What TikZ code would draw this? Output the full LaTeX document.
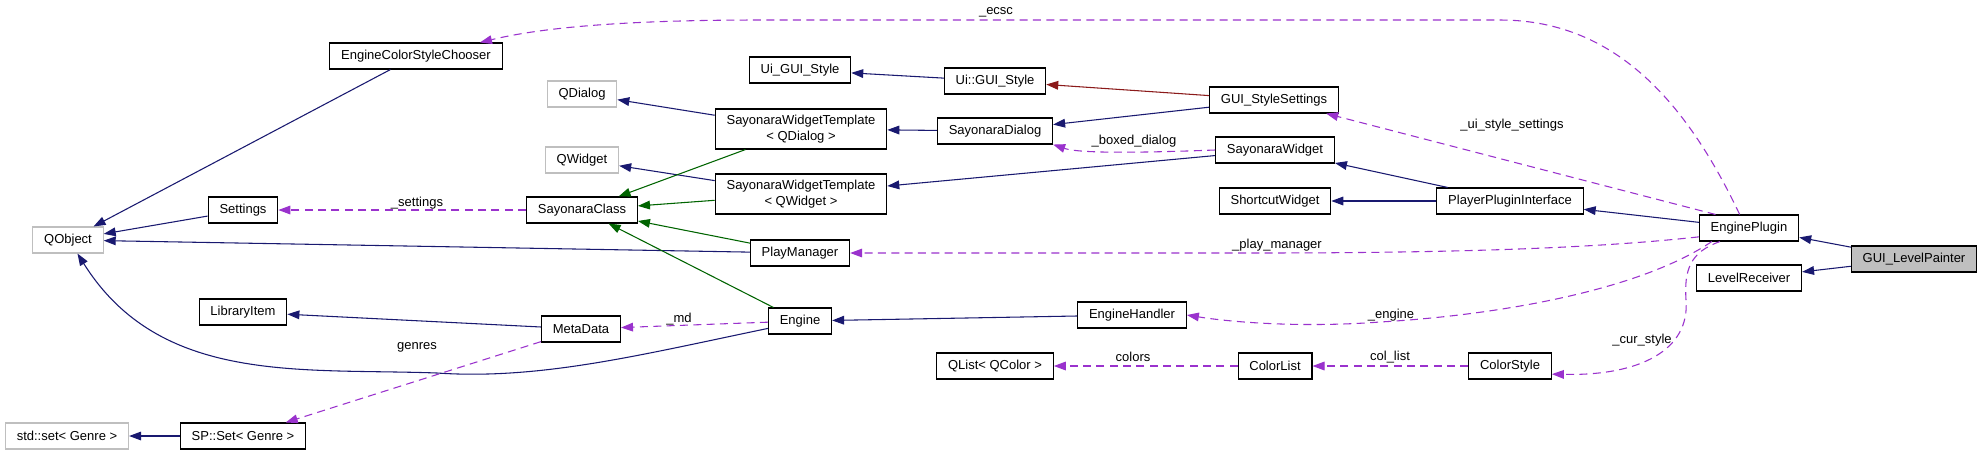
\documentclass[tikz,border=0pt]{standalone}
\usepackage{fontspec}
\setmainfont{Liberation Sans}
\usetikzlibrary{arrows.meta}

\definecolor{pubblue}{RGB}{25,25,112}
\definecolor{protgreen}{RGB}{0,100,0}
\definecolor{privred}{RGB}{139,26,26}
\definecolor{usepurple}{RGB}{154,50,205}
\definecolor{extgray}{RGB}{191,191,191}

\tikzset{
  cls/.style={draw=black, line width=0.8pt, fill=white, inner xsep=8.5pt, inner ysep=0pt, minimum height=19.5pt},
  clstwo/.style={cls, align=center, minimum height=30pt},
  extcls/.style={cls, draw=extgray},
  curcls/.style={cls, fill=extgray},
  lbl/.style={inner sep=0pt},
  pubinh/.style={draw=pubblue, line width=0.8pt, -{Triangle[length=9pt,width=6.5pt]}},
  protinh/.style={pubinh, draw=protgreen},
  privinh/.style={pubinh, draw=privred},
  usage/.style={pubinh, draw=usepurple, dash pattern=on 6pt off 4pt}
}

\begin{document}
\begin{tikzpicture}[x=0.75pt, y=-0.75pt, font=\fontsize{9.75}{11.5}\selectfont]
  \path[use as bounding box, fill=white] (0,0) rectangle (1983,455);

  % Bases on the left
  \node[extcls] (qobject) at (68,240) {QObject};
  \node[extcls] (stdset) at (67,436) {std::set< Genre >};
  \node[cls] (settings) at (243,210) {Settings};
  \node[cls] (libitem) at (243,312) {LibraryItem};
  \node[cls] (spset) at (243,436) {SP::Set< Genre >};
  \node[cls] (ecsc) at (416,56) {EngineColorStyleChooser};
  \node[extcls] (qdialog) at (582,94) {QDialog};
  \node[extcls] (qwidget) at (582,160) {QWidget};
  \node[cls] (sclass) at (582,210) {SayonaraClass};
  \node[cls] (metadata) at (581,329) {MetaData};

  % Middle columns
  \node[cls] (uigs) at (800,70) {Ui\_GUI\_Style};
  \node[clstwo] (swtdialog) at (801,129) {SayonaraWidgetTemplate\\< QDialog >};
  \node[clstwo] (swtwidget) at (801,194) {SayonaraWidgetTemplate\\< QWidget >};
  \node[cls] (playmgr) at (800,253) {PlayManager};
  \node[cls] (engine) at (800,321) {Engine};
  \node[cls] (uiguistyle) at (995,81) {Ui::GUI\_Style};
  \node[cls] (sdialog) at (995,131) {SayonaraDialog};
  \node[cls] (qlist) at (995,366) {QList< QColor >};
  \node[cls] (ehandler) at (1132,315) {EngineHandler};
  \node[cls] (gss) at (1274,100) {GUI\_StyleSettings};
  \node[cls] (swidget) at (1275,150) {SayonaraWidget};
  \node[cls] (shortcut) at (1275,201) {ShortcutWidget};
  \node[cls] (colorlist) at (1275,366) {ColorList};

  % Plugin side
  \node[cls] (ppi) at (1510,201) {PlayerPluginInterface};
  \node[cls] (colorstyle) at (1510,366) {ColorStyle};
  \node[cls] (eplugin) at (1749,228) {EnginePlugin};
  \node[cls] (lreceiver) at (1749,278) {LevelReceiver};
  \node[curcls] (painter) at (1914,259) {GUI\_LevelPainter};

  % Public inheritance
  \draw[pubinh] (ecsc) -- (qobject);
  \draw[pubinh] (settings) -- (qobject);
  \draw[pubinh] (playmgr) -- (qobject);
  \draw[pubinh] (engine.193) .. controls (640,355) and (540,380) .. (437,373)
    .. controls (300,368) and (160,385) .. (qobject.-55);
  \draw[pubinh] (metadata) -- (libitem);
  \draw[pubinh] (spset) -- (stdset);
  \draw[pubinh] (swtdialog) -- (qdialog);
  \draw[pubinh] (swtwidget) -- (qwidget);
  \draw[pubinh] (uiguistyle) -- (uigs);
  \draw[pubinh] (sdialog) -- (swtdialog);
  \draw[pubinh] (gss) -- (sdialog);
  \draw[pubinh] (swidget) -- (swtwidget);
  \draw[pubinh] (ppi) -- (swidget);
  \draw[pubinh] (ppi) -- (shortcut);
  \draw[pubinh] (eplugin) -- (ppi);
  \draw[pubinh] (painter) -- (eplugin);
  \draw[pubinh] (painter) -- (lreceiver);
  \draw[pubinh] (ehandler) -- (engine);

  % Protected and private inheritance
  \draw[protinh] (swtdialog) -- (sclass);
  \draw[protinh] (swtwidget) -- (sclass);
  \draw[protinh] (playmgr) -- (sclass);
  \draw[protinh] (engine) -- (sclass);
  \draw[privinh] (gss) -- (uiguistyle);

  % Usage relations
  \draw[usage] ([xshift=-7pt]eplugin.north) .. controls (1690,110) and (1620,20) .. (1500,20)
    -- (760,20) .. controls (620,20) and (540,28) .. ([xshift=-17pt]ecsc.north east);
  \draw[usage] (eplugin.158) -- (gss);
  \draw[usage] (swidget.west) .. controls (1110,154) and (1075,152) .. (sdialog.south east);
  \draw[usage] (sclass) -- (settings);
  \draw[usage] (eplugin.190) .. controls (1580,250) and (1420,253) .. (1250,253) -- (playmgr.east);
  \draw[usage] (engine) -- (metadata);
  \draw[usage] (metadata) -- (spset);
  \draw[usage] (eplugin.200) .. controls (1640,290) and (1500,315) .. (1380,322)
    .. controls (1300,328) and (1230,322) .. (ehandler.east);
  \draw[usage] (colorlist) -- (qlist);
  \draw[usage] (colorstyle) -- (colorlist);
  \draw[usage] (eplugin.205) .. controls (1690,252) and (1684,270) .. (1686,300)
    .. controls (1690,350) and (1640,376) .. (colorstyle.-11);

  % Member labels
  \node[lbl] (lecsc) at (996,12) {\_ecsc};
  \node[lbl] (luistyle) at (1512,125) {\_ui\_style\_settings};
  \node[lbl] (lboxed) at (1134,141) {\_boxed\_dialog};
  \node[lbl] (lsettings) at (417,203) {\_settings};
  \node[lbl] (lplaymgr) at (1277,245) {\_play\_manager};
  \node[lbl] (lmd) at (679,319) {\_md};
  \node[lbl] (lgenres) at (417,347) {genres};
  \node[lbl] (lengine) at (1391,315) {\_engine};
  \node[lbl] (lcolors) at (1133,357) {colors};
  \node[lbl] (lcollist) at (1390,357) {col\_list};
  \node[lbl] (lcurstyle) at (1642,340) {\_cur\_style};
\end{tikzpicture}
\end{document}
